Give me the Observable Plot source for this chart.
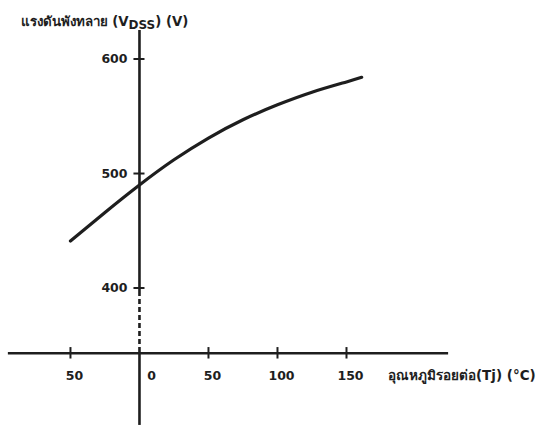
<!DOCTYPE html>
<html>
<head>
<meta charset="utf-8">
<script src="https://cdn.jsdelivr.net/npm/d3@7"></script>
<script src="https://cdn.jsdelivr.net/npm/@observablehq/plot@0.6"></script>
<style>
  html, body { margin: 0; padding: 0; background: #fff; }
  #chart { width: 553px; height: 431px; overflow: hidden; }
</style>
</head>
<body>
<div id="chart"></div>
<script>
// Junction temperature (°C) and breakdown voltage VDSS (V)
const temp = [-50, -25, 0, 25, 50, 75, 100, 125, 150, 161];
const vdss = [441, 466, 490, 512, 531, 547, 560, 571, 580, 584];

const xTicks = [-50, 50, 100, 150];
const xTickLabels = ["50", "50", "100", "150"];
const zeroTick = [0];
const yTicks = [400, 500, 600];
const yTickLabels = ["400", "500", "600"];

const yTitle = "แรงดันพังทลาย (VDSS) (V)";
const xTitle = "อุณหภูมิรอยต่อ(Tj) (°C)";

const axisY = 343;   // value where the x axis crosses
const ink = "#1e1e1e";
const font = "'DejaVu Sans', 'Noto Sans', sans-serif";

const data = temp.map((t, i) => ({t, v: vdss[i]}));

const plot = Plot.plot({
  width: 553,
  height: 431,
  margin: 0,
  x: {domain: [-100.7, 300], axis: null},
  y: {domain: [274.7, 651.1], axis: null},
  style: {fontFamily: font, fontWeight: "bold", color: ink, background: "#fff"},
  marks: [
    // x axis
    Plot.ruleY([axisY], {x1: -95, x2: 224, stroke: ink, strokeWidth: 2.4}),
    // y axis: solid top, dashed segment below 400, solid below the x axis
    Plot.ruleX([0], {y1: 397, y2: 625, stroke: ink, strokeWidth: 2.6}),
    Plot.ruleX([0], {y1: 397, y2: axisY, stroke: ink, strokeWidth: 2.6, strokeDasharray: "5,3"}),
    Plot.ruleX([0], {y1: 280, y2: axisY, stroke: ink, strokeWidth: 2.6}),
    // x ticks
    Plot.ruleX(xTicks, {y1: axisY - 5, y2: axisY + 5, stroke: ink, strokeWidth: 2}),
    // y ticks
    Plot.ruleY(yTicks, {x1: -4, x2: 4, stroke: ink, strokeWidth: 2}),
    // curve
    Plot.line(data, {x: "t", y: "v", curve: "natural", stroke: ink, strokeWidth: 3.2, strokeLinecap: "round"}),
    // x tick labels
    Plot.text(xTicks, {x: d => d, y: 323.6, text: (d, i) => xTickLabels[i], dx: 4, fontSize: 12.5, fontWeight: "bold", fill: ink}),
    Plot.text(zeroTick, {x: d => d, y: 323.6, text: d => String(d), dx: 12, fontSize: 12.5, fontWeight: "bold", fill: ink}),
    // y tick labels
    Plot.text(yTicks, {x: 0, y: d => d, text: (d, i) => yTickLabels[i], dx: -12, textAnchor: "end", fontSize: 12.5, fontWeight: "bold", fill: ink}),
    // titles
    Plot.text([yTitle], {frameAnchor: "top-left", dx: 20, dy: 16, textAnchor: "start", fontSize: 13.3, fontWeight: "bold", fill: ink}),
    Plot.text([xTitle], {x: 180, y: 323.6, textAnchor: "start", fontSize: 13.5, fontWeight: "bold", fill: ink})
  ]
});

document.getElementById("chart").appendChild(plot);

// subscript DSS in the y title
d3.select(plot).selectAll("text").each(function() {
  const t = d3.select(this);
  if (t.text() === yTitle) {
    t.text(null);
    t.append("tspan").text("แรงดันพังทลาย (V");
    t.append("tspan").attr("dy", 3).attr("font-size", 12).text("DSS");
    t.append("tspan").attr("dy", -3).text(") (V)");
  }
});
</script>
</body>
</html>
